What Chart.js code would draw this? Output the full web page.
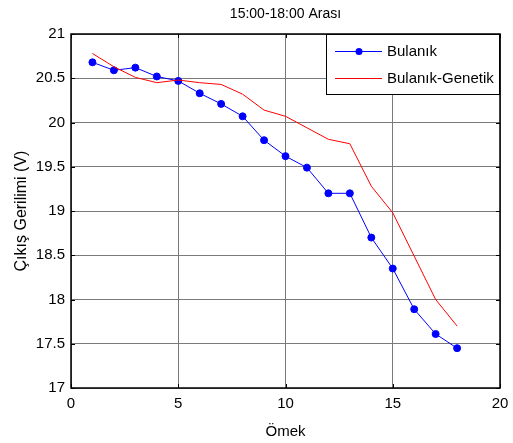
<!DOCTYPE html>
<html>
<head>
<meta charset="utf-8">
<script src="https://cdn.jsdelivr.net/npm/chart.js@4/dist/chart.umd.min.js"></script>
<style>
html,body{margin:0;padding:0;background:#fff;}
#wrap{width:513px;height:443px;}
</style>
</head>
<body>
<div id="wrap"><canvas id="c" width="513" height="443"></canvas></div>
<script>
const chartTitle = '15:00-18:00 Arası';
const xTitle = 'Ömek';
const yTitle = 'Çıkış Gerilimi (V)';
const samples = [1,2,3,4,5,6,7,8,9,10,11,12,13,14,15,16,17,18];
const bulanik = [20.68,20.59,20.62,20.52,20.47,20.33,20.21,20.07,19.80,19.62,19.49,19.20,19.20,18.70,18.35,17.89,17.61,17.45];
const bulanikGenetik = [20.78,20.63,20.51,20.45,20.48,20.45,20.43,20.32,20.14,20.07,19.94,19.81,19.76,19.28,18.98,18.49,18.00,17.70];
const seriesNames = ['Bulanık','Bulanık-Genetik'];
const xTicks = [0,5,10,15,20];
const yTicks = [17,17.5,18,18.5,19,19.5,20,20.5,21];

const FONT = "'Liberation Sans', Arial, sans-serif";

const frameAndLegend = {
  id: 'frameAndLegend',
  afterDraw(chart) {
    const ctx = chart.ctx;
    const a = chart.chartArea;
    ctx.save();
    ctx.fillStyle = '#000';
    ctx.font = '14px ' + FONT;
    ctx.textAlign = 'center';
    ctx.textBaseline = 'middle';
    ctx.fillText(chartTitle, (a.left + a.right) / 2, 14);
    ctx.restore();
  },
  afterDatasetsDraw(chart) {
    const ctx = chart.ctx;
    const a = chart.chartArea;
    const xs = chart.scales.x, ys = chart.scales.y;
    ctx.save();
    // inward ticks
    ctx.strokeStyle = '#000';
    ctx.lineWidth = 1;
    ctx.beginPath();
    xTicks.forEach(v => {
      const px = Math.round(xs.getPixelForValue(v)) + 0.5;
      ctx.moveTo(px, a.bottom); ctx.lineTo(px, a.bottom - 4);
      ctx.moveTo(px, a.top); ctx.lineTo(px, a.top + 4);
    });
    yTicks.forEach(v => {
      const py = Math.round(ys.getPixelForValue(v)) + 0.5;
      ctx.moveTo(a.left, py); ctx.lineTo(a.left + 4, py);
      ctx.moveTo(a.right, py); ctx.lineTo(a.right - 4, py);
    });
    ctx.stroke();
    // frame
    ctx.lineWidth = 1.5;
    ctx.strokeRect(a.left, a.top, a.right - a.left, a.bottom - a.top);
    // legend box
    const bx = 326, by = a.top, bw = a.right - 326, bh = 61;
    ctx.fillStyle = '#fff';
    ctx.fillRect(bx, by, bw, bh);
    ctx.lineWidth = 1;
    ctx.strokeStyle = '#000';
    ctx.strokeRect(bx + 0.5, by + 0.5, bw - 1, bh - 1);
    const items = chart.data.datasets;
    const rows = [51, 78];
    ctx.font = '15px ' + FONT;
    ctx.textBaseline = 'middle';
    ctx.textAlign = 'left';
    seriesNames.forEach((name, i) => {
      const ds = items.find(d => d.label === name);
      const y = rows[i];
      ctx.strokeStyle = ds.borderColor;
      ctx.lineWidth = 1;
      ctx.beginPath();
      ctx.moveTo(335, y + 0.5); ctx.lineTo(382, y + 0.5);
      ctx.stroke();
      if (ds.pointRadius > 0) {
        ctx.fillStyle = ds.pointBackgroundColor;
        ctx.beginPath();
        ctx.arc(359, y + 0.5, 3.5, 0, Math.PI * 2);
        ctx.fill();
      }
      ctx.fillStyle = '#000';
      ctx.fillText(name, 387, y + 1);
    });
    ctx.restore();
  }
};

new Chart(document.getElementById('c'), {
  type: 'line',
  data: {
    datasets: [
      {
        label: seriesNames[0],
        data: samples.map((x, i) => ({x, y: bulanik[i]})),
        borderColor: '#0000ff',
        backgroundColor: '#0000ff',
        pointBackgroundColor: '#0000ff',
        pointBorderColor: '#0000ff',
        pointRadius: 3.5,
        borderWidth: 1,
        tension: 0,
        order: 1
      },
      {
        label: seriesNames[1],
        data: samples.map((x, i) => ({x, y: bulanikGenetik[i]})),
        borderColor: '#ff0000',
        backgroundColor: '#ff0000',
        pointBackgroundColor: '#ff0000',
        pointRadius: 0,
        borderWidth: 1,
        tension: 0,
        order: 0
      }
    ]
  },
  options: {
    responsive: false,
    animation: false,
    layout: { padding: { left: 0, right: 13, top: 34, bottom: 0 } },
    plugins: {
      legend: { display: false },
      tooltip: { enabled: false },
      title: { display: false }
    },
    scales: {
      x: {
        type: 'linear',
        min: 0, max: 20,
        afterBuildTicks: s => { s.ticks = xTicks.map(v => ({value: v})); },
        afterFit: s => { s.height = 55; s.paddingLeft = 0; s.paddingRight = 0; },
        ticks: { color: '#000', font: { family: FONT, size: 15 }, padding: 7, maxRotation: 0, callback: v => String(v) },
        grid: { color: '#7a7a7a', lineWidth: 1, drawTicks: false },
        border: { display: false },
        title: { display: true, text: xTitle, color: '#000', font: { family: FONT, size: 15 }, padding: { top: 0, bottom: 2 } }
      },
      y: {
        type: 'linear',
        min: 17, max: 21,
        afterBuildTicks: s => { s.ticks = yTicks.map(v => ({value: v})); },
        afterFit: s => { s.width = 71; s.paddingTop = 0; s.paddingBottom = 0; },
        ticks: { color: '#000', font: { family: FONT, size: 15 }, padding: 6, callback: v => String(v) },
        grid: { color: '#7a7a7a', lineWidth: 1, drawTicks: false },
        border: { display: false },
        title: { display: true, text: yTitle, color: '#000', font: { family: FONT, size: 16 }, padding: { top: 12, bottom: 0 } }
      }
    }
  },
  plugins: [frameAndLegend]
});
</script>
</body>
</html>
